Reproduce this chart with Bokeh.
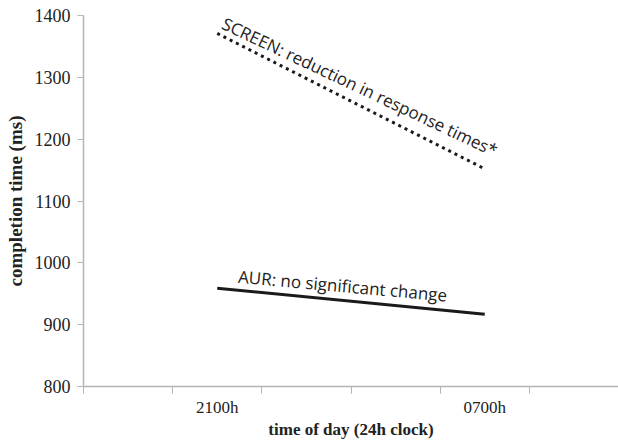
from bokeh.plotting import figure
from bokeh.models import FixedTicker, Range1d
from bokeh.core.properties import value
from bokeh.embed import file_html
from bokeh.resources import INLINE

# Session times and their positions on the time axis
time_labels = ["2100h", "0700h"]
time_pos = [1.5, 4.5]
slot_edges = [0, 1, 2, 3, 4, 5, 6]

# Mean completion times (ms) at each session
screen_ms = [1371, 1152]
aur_ms = [959, 917]

y_ticks = [800, 900, 1000, 1100, 1200, 1300, 1400]

AXIS_GREY = "#b5b5b5"
SERIF = "Liberation Serif"
SANS = "Open Sans"

p = figure(width=618, height=441, output_backend="svg", toolbar_location=None,
           x_range=Range1d(0, 6), y_range=Range1d(800, 1400),
           min_border_left=83, min_border_right=0, min_border_top=15, min_border_bottom=53)
p.outline_line_color = None
p.xgrid.visible = False
p.ygrid.visible = False

# Lines
p.line(time_pos, screen_ms, line_color="#1a1a1a", line_width=3, line_dash="3 4")
p.line(time_pos, aur_ms, line_color="#1a1a1a", line_width=3)

# Line annotations, anchored at the first session and tilted along each line
p.text(x=[time_pos[0]], y=[screen_ms[0]], text=["SCREEN: reduction in response times*"],
       angle=-0.44, x_offset=6, y_offset=-11, text_font=value(SANS), text_font_size="17px",
       text_color="#222222", text_baseline="alphabetic", text_align="left")
p.text(x=[time_pos[0]], y=[aur_ms[0]], text=["AUR: no significant change"],
       angle=-0.09, x_offset=21, y_offset=-12, text_font=value(SANS), text_font_size="17px",
       text_color="#222222", text_baseline="alphabetic", text_align="left")

# X axis: labels centred in their slots, minor ticks mark the slot edges
xa = p.xaxis[0]
xa.ticker = FixedTicker(ticks=time_pos, minor_ticks=slot_edges)
xa.major_label_overrides = {time_pos[0]: time_labels[0], time_pos[1]: time_labels[1]}
xa.major_tick_line_color = None
xa.major_tick_out = 0
xa.major_tick_in = 0
xa.minor_tick_out = 7
xa.minor_tick_in = 0
xa.minor_tick_line_color = AXIS_GREY
xa.axis_line_color = AXIS_GREY
xa.axis_line_width = 1.5
xa.major_label_standoff = 4
xa.major_label_text_font = SERIF
xa.major_label_text_font_size = "17px"
xa.major_label_text_color = "#222222"
xa.axis_label = "time of day (24h clock)"
xa.axis_label_text_font = SERIF
xa.axis_label_text_font_style = "bold"
xa.axis_label_text_font_size = "17px"
xa.axis_label_text_color = "#222222"
xa.axis_label_standoff = 0

ya = p.yaxis[0]
ya.ticker = FixedTicker(ticks=y_ticks)
ya.minor_tick_line_color = None
ya.major_tick_out = 6
ya.major_tick_in = 0
ya.major_tick_line_color = AXIS_GREY
ya.axis_line_color = AXIS_GREY
ya.axis_line_width = 1.5
ya.major_label_standoff = 7
ya.major_label_text_font = SERIF
ya.major_label_text_font_size = "18px"
ya.major_label_text_color = "#222222"
ya.axis_label = "completion time (ms)"
ya.axis_label_text_font = SERIF
ya.axis_label_text_font_style = "bold"
ya.axis_label_text_font_size = "19px"
ya.axis_label_text_color = "#222222"
ya.axis_label_standoff = 6

open("out.html", "w").write(file_html(p, INLINE))
